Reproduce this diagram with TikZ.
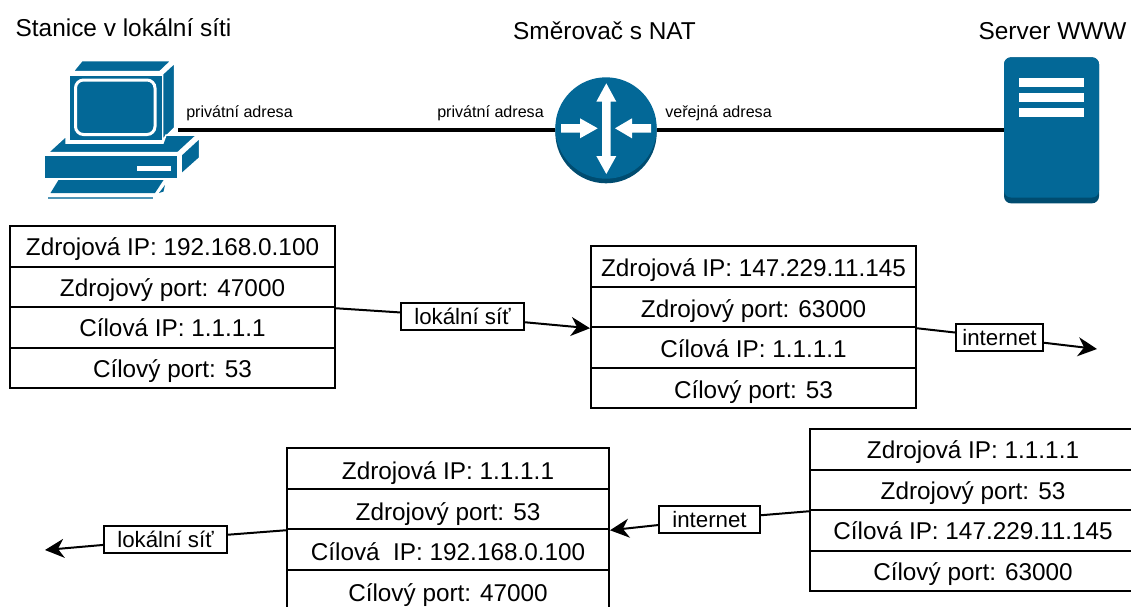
\documentclass[tikz,border=0pt]{standalone}
\usepackage{fontspec}
\setmainfont{Liberation Sans}
\usetikzlibrary{arrows.meta}

\definecolor{iconBlue}{HTML}{036897}
\definecolor{iconDark}{HTML}{004C70}

\tikzset{
	rowbox/.style={draw, line width=2pt, minimum height=40.5pt, inner sep=0pt, text height=20pt, text depth=2pt, font=\fontsize{24.3}{28}\selectfont},
	netbox/.style={draw, fill=white, line width=2pt, minimum height=27pt, inner sep=0pt, font=\fontsize{22.3}{26}\selectfont},
	title/.style={inner sep=0pt, font=\fontsize{24.4}{28}\selectfont},
	addr/.style={inner sep=0pt, font=\fontsize{16.1}{19}\selectfont},
	flow/.style={line width=2pt, -{Stealth[length=19pt,width=19pt,inset=6pt]}},
	plain/.style={line width=2pt},
	wire/.style={line width=4pt},
	icon/.style={fill=iconBlue, draw=white, line width=1.5pt},
	whitebar/.style={fill=white}
}

\begin{document}
\begin{tikzpicture}[x=1pt, y=-1pt]
	\useasboundingbox (0,0) rectangle (1131,606);
	\clip (0,0) rectangle (1131,606);
	\def\rowH{40.5} % Height of one row
	
	% Titles
	\node[title] (titlePc) at (123.5,28) {Stanice v lokální síti};
	\node[title] (titleRouter) at (604.5,31) {Směrovač s NAT};
	\node[title] (titleServer) at (1052.5,31) {Server WWW};
	
	% Router and server bodies
	\coordinate (pc) at (178,129.5);
	\node[circle, minimum size=101.4pt, inner sep=0pt] (router) at (606,129.5) {};
	\node[rectangle, rounded corners=7pt, fill=iconDark, minimum width=95pt, minimum height=146pt, inner sep=0pt] (server) at (1051.5,130.3) {};
	
	% Cable
	\draw[wire] (pc) -- (router.west);
	\draw[wire] (router.east) -- (router.east -| server.west);
	
	% Address labels
	\node[addr] (addrPc) at (239.5,113.5) {privátní adresa};
	\node[addr] (addrIn) at (490.5,113.5) {privátní adresa};
	\node[addr] (addrOut) at (718.5,113.5) {veřejná adresa};
	
	% Draw the computer
	\fill[icon] (82,60.5) -- (171.5,60.5) -- (160,71.5) -- (73,71.5) -- cycle;
	\fill[icon] (162.5,74) -- (174.5,63) -- (174.5,128) -- (162.5,140) -- cycle;
	\fill[icon] (66,136) -- (48,152.5) -- (178,152.5) -- (197,135) -- (166,135) -- (163,143) -- (66,143) -- cycle;
	\fill[icon] (181,155) -- (199.5,138) -- (199.5,158) -- (181,174.5) -- cycle;
	\fill[iconBlue] (45,156) rectangle (177,178);
	\fill[whitebar] (137,166) rectangle (171,170.5);
	\fill[iconBlue] (58.5,180) -- (163.5,180) -- (155,193) -- (50.5,193) -- cycle;
	\fill[iconBlue!70] (48,197) rectangle (153,199);
	\fill[iconBlue] (165,185) -- (159,193) -- (163.5,191.5) -- cycle;
	\fill[iconBlue] (70,76) rectangle (162,140);
	\draw[white, line width=3pt, rounded corners=8pt] (75.5,80) rectangle (155,134.5);
	
	% Draw the router
	\fill[iconDark] (606,132.6) circle (50.7);
	\fill[iconBlue] (606,128) circle (50.7);
	\fill[white] (606.3,83.3) -- (616.3,101.7) -- (610.6,101.7) -- (610.6,156) -- (616.3,156) -- (606.3,174) -- (596.3,156) -- (602,156) -- (602,101.7) -- (596.3,101.7) -- cycle;
	\fill[white] (561,124) -- (580,124) -- (580,118.3) -- (597.7,128.3) -- (580,138.3) -- (580,132.6) -- (561,132.6) -- cycle;
	\fill[white] (651,124) -- (632,124) -- (632,118.3) -- (615,128.3) -- (632,138.3) -- (632,132.6) -- (651,132.6) -- cycle;
	
	% Draw the server
	\fill[iconBlue, rounded corners=7pt] (1004,57.3) rectangle (1099,197.5);
	\foreach \barY in {78, 93, 108} {
		\fill[whitebar] (1019,\barY) rectangle (1084,\barY+8.7);
	}
	
	% Rows of the four packets
	\foreach \i/\rowText in {0/Zdrojová IP: 192.168.0.100, 1/Zdrojový port: 47000, 2/Cílová IP: 1.1.1.1, 3/Cílový port: 53} {
		\node[rowbox, minimum width=325pt] (a\i) at (172.5, 246.5 + \i*\rowH) {\rowText};
	}
	\foreach \i/\rowText in {0/Zdrojová IP: 147.229.11.145, 1/Zdrojový port: 63000, 2/Cílová IP: 1.1.1.1, 3/Cílový port: 53} {
		\node[rowbox, minimum width=325pt, text height=22pt] (b\i) at (753.5, 266.5 + \i*\rowH) {\rowText};
	}
	\foreach \i/\rowText in {0/Zdrojová IP: 1.1.1.1, 1/Zdrojový port: 53, 2/Cílová IP: 147.229.11.145, 3/Cílový port: 63000} {
		\node[rowbox, minimum width=326pt] (c\i) at (973, 449.5 + \i*\rowH) {\rowText};
	}
	\foreach \i/\rowText in {0/Zdrojová IP: 1.1.1.1, 1/Zdrojový port: 53, 2/Cílová\ \ IP: 192.168.0.100, 3/Cílový port: 47000} {
		\node[rowbox, minimum width=322pt, text height=24pt] (d\i) at (448, 468.5 + \i*\rowH) {\rowText};
	}
	
	% Labels on the arrows
	\node[netbox, minimum width=123pt] (localOut) at (462.5,316.5) {lokální síť};
	\node[netbox, minimum width=87pt] (netOut) at (999.5,337.5) {internet};
	\node[netbox, minimum width=101pt] (netIn) at (709.5,519.5) {internet};
	\node[netbox, minimum width=123pt] (localIn) at (165.5,539.5) {lokální síť};
	
	% Free ends
	\coordinate (endOut) at (1097,349);
	\coordinate (endIn) at (45,550);
	
	% Arrows
	\draw[plain] (a1.south east) -- (localOut);
	\draw[flow] (localOut) -- (b1.south west);
	\draw[plain] (b1.south east) -- (netOut);
	\draw[flow] (netOut) -- (endOut);
	\draw[plain] (c1.south west) -- (netIn);
	\draw[flow] (netIn) -- (d1.south east);
	\draw[plain] (d1.south west) -- (localIn);
	\draw[flow] (localIn) -- (endIn);
\end{tikzpicture}
\end{document}
